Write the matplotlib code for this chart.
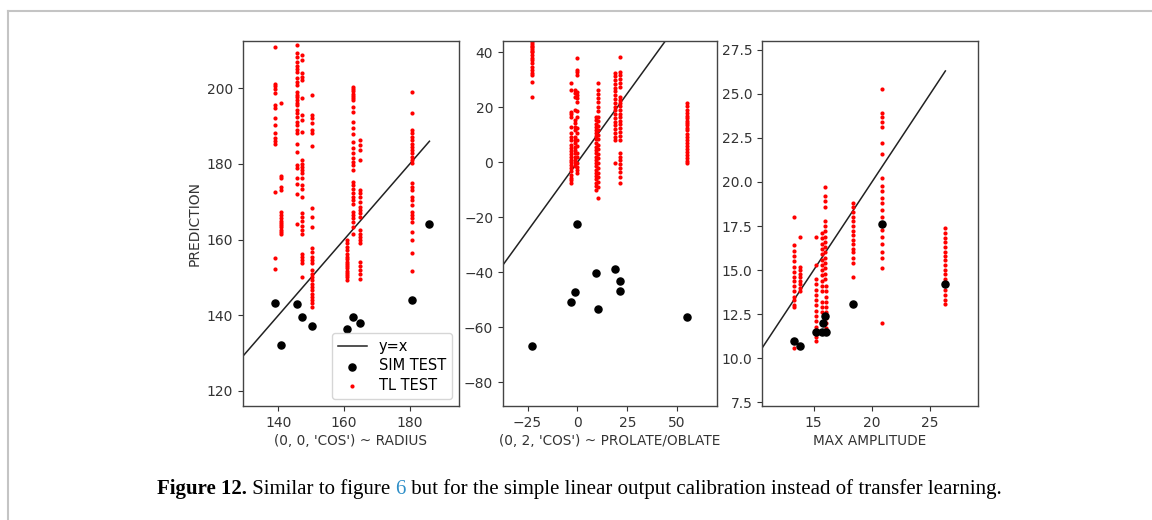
import numpy as np
import matplotlib
matplotlib.use("Agg")
import matplotlib.pyplot as plt
from matplotlib.lines import Line2D

# ---- panel 1: (0, 0, 'COS') ~ RADIUS ----
radius_sim_x = [139.0, 140.7, 145.5, 147.3, 150.2, 160.9, 162.7, 164.7, 180.6, 186.0]
radius_sim_y = [143.2, 132.0, 142.9, 139.4, 137.2, 136.3, 139.4, 138.0, 144.0, 164.0]
radius_tl_cols = [139.0, 140.7, 145.5, 147.3, 150.2, 160.9, 162.7, 164.7, 180.6]
radius_tl_y = [
    [210.8, 201.2, 200.5, 199.9, 198.7, 195.6, 194.7, 192.1, 190.3, 188.3, 186.9, 186.0, 185.4, 172.5, 155.0, 152.1],
    [196.0, 176.8, 176.2, 173.9, 173.0, 167.3, 166.5, 165.6, 165.0, 164.4, 163.8, 163.2, 162.6, 162.0, 161.4],
    [211.5, 209.3, 208.4, 207.0, 206.0, 205.2, 204.4, 202.6, 201.7, 200.9, 199.0, 198.3, 197.6, 196.8, 196.2, 195.6,
     194.3, 193.4, 192.5, 191.2, 190.2, 189.0, 188.1, 185.4, 183.2, 179.7, 178.8, 176.2, 174.7, 172.0, 164.1],
    [208.8, 207.5, 204.0, 203.1, 202.2, 197.4, 193.0, 191.6, 188.5, 181.0, 180.1, 179.2, 178.4, 177.5, 176.2, 174.4,
     173.5, 171.3, 166.9, 166.0, 164.8, 163.6, 162.5, 161.6, 156.3, 155.3, 154.5, 153.7, 150.0],
    [198.1, 192.9, 192.1, 190.7, 189.0, 188.1, 184.7, 168.4, 166.0, 163.4, 157.7, 156.8, 155.5, 154.6, 153.7, 151.9,
     151.0, 150.1, 149.2, 148.3, 147.4, 146.6, 145.7, 144.8, 143.9, 143.1, 142.2],
    [159.9, 159.0, 158.1, 157.2, 156.3, 155.4, 154.8, 154.2, 153.6, 153.0, 152.4, 151.8, 151.2, 150.6, 150.0, 149.3],
    [200.4, 199.8, 199.2, 198.6, 198.0, 197.4, 196.9, 195.0, 193.6, 191.2, 189.5, 188.0, 185.8, 184.2, 182.9, 181.5,
     180.6, 179.7, 178.4, 175.3, 174.4, 173.5, 172.2, 171.3, 170.4, 169.5, 167.4, 166.5, 165.6, 164.7, 163.4, 161.6],
    [186.3, 185.0, 183.7, 181.0, 173.1, 172.2, 171.3, 170.0, 168.7, 167.8, 166.9, 166.0, 162.5, 161.6, 160.7, 159.8,
     159.0, 154.1, 153.0, 151.9, 150.8, 149.7],
    [199.1, 193.4, 189.0, 188.1, 187.2, 186.3, 185.4, 184.6, 183.7, 182.8, 181.9, 181.0, 180.2, 174.9, 174.0, 173.1,
     171.3, 170.4, 169.1, 167.4, 166.5, 165.6, 164.7, 162.1, 159.9, 156.5, 151.8],
]

# ---- panel 2: (0, 2, 'COS') ~ PROLATE/OBLATE ----
prolate_sim_x = [-22.6, -3.3, -1.3, 0.0, 9.2, 10.4, 18.7, 21.4, 21.4, 55.2]
prolate_sim_y = [-66.7, -50.9, -47.0, -22.5, -40.4, -53.2, -38.8, -43.2, -46.7, -56.4]
prolate_tl_cols = [-22.6, -3.3, -1.3, 0.0, 9.2, 10.4, 18.7, 21.4, 55.2]
prolate_tl_y = [
    [43.6, 43.0, 42.4, 41.8, 41.2, 40.6, 40.0, 39.0, 38.1, 37.2, 36.0, 34.5, 33.6, 32.4, 31.8, 29.3, 23.9],
    [28.7, 26.3, 18.4, 17.5, 16.6, 13.0, 10.5, 9.3, 8.1, 6.3, 5.1, 4.0, 3.0, 2.0, 1.0, 0.0, -1.0, -2.0, -3.2,
     -4.5, -5.6, -6.6, -7.6],
    [26.3, 25.1, 23.9, 19.0, 15.4, 14.2, 13.0, 11.8, 9.3, 8.1, 6.9, 5.7, 4.5, 3.3, 2.1, 1.0, -0.2, -1.5],
    [37.8, 33.6, 32.7, 31.8, 25.7, 24.5, 23.3, 22.1, 18.5, 16.6, 12.5, 10.5, 8.1, 6.0, 3.3, 2.0, -0.4, -1.6,
     -2.8, -4.0],
    [16.6, 15.4, 14.1, 13.0, 11.9, 10.5, 9.4, 8.3, 7.0, 5.7, 4.6, 3.5, 2.1, 1.0, -0.3, -1.4, -2.7, -3.8, -5.1,
     -6.1, -7.5, -8.6, -10.0],
    [28.7, 26.3, 24.9, 23.4, 21.9, 20.0, 18.5, 16.6, 15.1, 13.2, 11.7, 9.8, 8.3, 6.4, 4.9, 3.0, 1.5, -0.4, -1.9,
     -3.8, -5.3, -7.2, -8.8, -13.1],
    [32.4, 31.2, 30.0, 28.5, 27.0, 25.9, 24.4, 23.1, 21.7, 20.2, 19.0, 17.6, 16.1, 14.8, 13.5, 12.0, 10.6, 9.2,
     8.1, -0.4],
    [38.4, 33.0, 31.9, 30.4, 29.0, 27.5, 23.9, 22.8, 21.6, 20.3, 19.1, 17.7, 16.5, 15.0, 13.8, 12.3, 11.0, 9.4,
     8.1, 3.3, 2.0, 0.8, -0.6, -1.9, -3.5, -5.2, -7.6],
    [21.5, 20.4, 19.0, 18.1, 17.0, 16.2, 15.1, 14.3, 13.5, 12.4, 11.6, 10.4, 9.3, 8.1, 7.0, 6.1, 5.0, 3.8, 2.6,
     1.4, 0.5, -0.4],
]

# ---- panel 3: MAX AMPLITUDE ----
amp_sim_x = [13.3, 13.8, 15.2, 15.7, 15.8, 16.0, 16.1, 18.4, 20.9, 26.3]
amp_sim_y = [11.0, 10.7, 11.5, 11.5, 12.0, 12.4, 11.5, 13.1, 17.6, 14.2]
amp_tl_cols = [13.3, 13.8, 15.2, 15.7, 16.0, 16.1, 18.4, 20.9, 26.3]
amp_tl_y = [
    [18.0, 16.4, 16.1, 15.8, 15.5, 15.2, 14.9, 14.6, 14.4, 14.1, 13.8, 13.5, 13.3, 13.0, 12.9, 10.6],
    [16.9, 15.2, 15.0, 14.8, 14.6, 14.4, 14.2, 14.0, 13.8],
    [16.9, 15.3, 14.5, 14.2, 13.9, 13.6, 13.3, 13.0, 12.7, 12.4, 12.1, 11.8, 11.5, 11.2, 11.0],
    [17.1, 16.8, 16.5, 16.2, 15.9, 15.6, 15.3, 15.0, 14.7, 14.4, 14.1, 13.8, 13.2, 12.9, 12.6],
    [19.7, 19.2, 18.9, 18.6, 17.8, 17.5, 17.2, 16.9, 16.6, 16.3, 16.0, 15.7, 15.4, 15.1, 14.8, 14.5],
    [14.1, 13.8, 13.5, 13.2, 12.9, 12.6, 12.3, 12.0, 11.7],
    [18.8, 18.6, 18.3, 18.0, 17.8, 17.5, 17.2, 17.0, 16.7, 16.5, 16.2, 16.0, 15.7, 15.4, 14.6],
    [25.3, 23.9, 23.7, 23.4, 23.1, 22.2, 21.6, 20.2, 19.8, 19.5, 19.1, 18.8, 18.4, 18.0, 17.7, 17.3, 16.9, 16.5,
     16.0, 15.7, 15.1, 12.0],
    [17.4, 17.1, 16.8, 16.6, 16.3, 16.0, 15.8, 15.6, 15.3, 15.0, 14.8, 14.5, 14.2, 13.9, 13.6, 13.3, 13.1],
]

panels = [
    ("(0, 0, 'COS') ~ RADIUS", radius_sim_x, radius_sim_y, radius_tl_cols, radius_tl_y,
     (129.2, 195.0), (116.0, 212.5), [140, 160, 180], [120, 140, 160, 180, 200]),
    ("(0, 2, 'COS') ~ PROLATE/OBLATE", prolate_sim_x, prolate_sim_y, prolate_tl_cols, prolate_tl_y,
     (-37.3, 70.0), (-88.6, 44.1), [-25, 0, 25, 50], [-80, -60, -40, -20, 0, 20, 40]),
    ("MAX AMPLITUDE", amp_sim_x, amp_sim_y, amp_tl_cols, amp_tl_y,
     (10.57, 29.1), (7.29, 28.0), [15, 20, 25], [7.5, 10.0, 12.5, 15.0, 17.5, 20.0, 22.5, 25.0, 27.5]),
]

fig = plt.figure(figsize=(11.52, 5.2), dpi=100)
fig.patch.set_facecolor("white")

W, H = 1152, 520
lefts = [243, 503, 762]
rights = [459, 717, 978]
top, bottom = 41, 406

for i, (xlabel, sx, sy, cols, tl, xlim, ylim, xt, yt) in enumerate(panels):
    ax = fig.add_axes([lefts[i] / W, (H - bottom) / H, (rights[i] - lefts[i]) / W, (bottom - top) / H])
    ax.set_xlim(*xlim)
    ax.set_ylim(*ylim)
    lo = xlim[0]
    hi = max(sx)
    ax.plot([lo, hi], [lo, hi], color="#222222", lw=1.1, label="y=x")
    ax.scatter(sx, sy, s=26, color="black", zorder=3, label="SIM TEST")
    tx = np.repeat(cols, [len(c) for c in tl])
    ty = np.concatenate(tl)
    ax.scatter(tx, ty, s=9, color="red", linewidths=0, zorder=2, label="TL TEST")
    ax.set_xticks(xt)
    ax.set_yticks(yt)
    if i == 2:
        ax.set_yticklabels(["%.1f" % v for v in yt])
    ax.tick_params(labelsize=10, colors="#333333")
    ax.set_xlabel(xlabel, fontsize=9.8, color="#333333", labelpad=3)
    for sp in ax.spines.values():
        sp.set_color("#444444")
        sp.set_linewidth(1.0)
    if i == 0:
        ax.set_ylabel("PREDICTION", fontsize=10, color="#333333")
        ax.legend(loc="lower right", fontsize=10.5, framealpha=0.8, edgecolor="#cccccc",
                  handlelength=2.0, borderpad=0.4, labelspacing=0.3)

# page border (top and left edge of the figure box)
fig.add_artist(Line2D([8 / W, 1.0], [(H - 11) / H, (H - 11) / H], color="#c4c4c4", lw=1.5,
                      transform=fig.transFigure))
fig.add_artist(Line2D([8 / W, 8 / W], [0.0, (H - 11) / H], color="#c4c4c4", lw=1.5,
                      transform=fig.transFigure))

# caption with mixed styles
pieces = [("Figure 12.", "bold", "black"), (" Similar to figure ", "normal", "black"),
          ("6", "normal", "#2f8fc8"),
          (" but for the simple linear output calibration instead of transfer learning.", "normal", "black")]
fig.canvas.draw()
renderer = fig.canvas.get_renderer()
x = 157 / W
cy = (H - 494) / H
for txt, wt, col in pieces:
    t = fig.text(x, cy, txt, fontsize=15.0, fontweight=wt, color=col, family="Liberation Serif",
                 va="baseline", ha="left")
    bb = t.get_window_extent(renderer=renderer)
    x = bb.x1 / W

fig.savefig("out.png", dpi=100, facecolor="white")
